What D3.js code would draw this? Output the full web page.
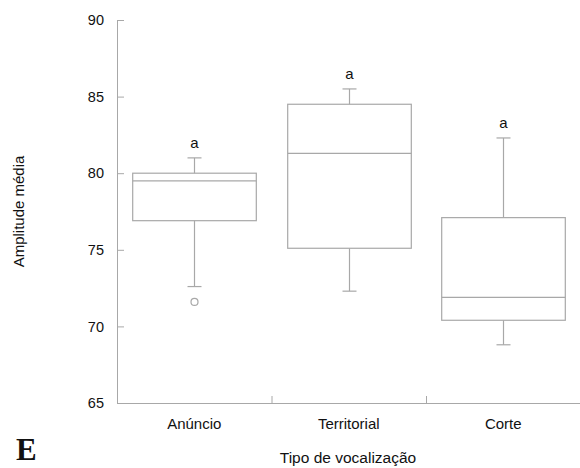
<!DOCTYPE html>
<html><head><meta charset="utf-8">
<script src="https://cdn.jsdelivr.net/npm/d3@7"></script>
<style>body{margin:0;background:#fff}svg{display:block}</style>
</head><body>
<script>
const categories = ["Anúncio", "Territorial", "Corte"];
const whiskerLow = [72.6, 72.3, 68.8];
const q1 = [76.9, 75.1, 70.4];
const median = [79.5, 81.3, 71.9];
const q3 = [80.0, 84.5, 77.1];
const whiskerHigh = [81.0, 85.5, 82.3];
const outliers = [[71.6], [], []];
const letters = ["a", "a", "a"];
const yTicks = [65, 70, 75, 80, 85, 90];

(function () {
const W = 580, H = 468;
const svg = d3.select("body").append("svg").attr("width", W).attr("height", H);
const mLeft = 117, mRight = 580, mTop = 20, mBottom = 403;
const x = d3.scaleBand().domain(categories).range([mLeft, mRight + 0.5]).paddingInner(0).paddingOuter(0);
const y = d3.scaleLinear().domain([65, 90]).range([mBottom, mTop]);
const gray = "#a8a8a8";
const font = "Liberation Sans, Arial, sans-serif";

// Y axis
const ya = svg.append("g").attr("transform", `translate(${mLeft},0)`)
  .call(d3.axisLeft(y).tickValues(yTicks).tickSizeInner(-7).tickSizeOuter(0).tickPadding(13));
ya.select(".domain").attr("stroke", gray);
ya.selectAll(".tick line").attr("stroke", gray);
ya.selectAll(".tick text").attr("font-family", font).attr("font-size", 14.5).attr("fill", "#111");

// X axis
const xa = svg.append("g").attr("transform", `translate(0,${mBottom})`)
  .call(d3.axisBottom(x).tickSize(0).tickPadding(15));
xa.select(".domain").attr("stroke", gray);
xa.selectAll(".tick text").attr("font-family", font).attr("font-size", 15).attr("fill", "#111");
svg.selectAll(".sep").data(categories.slice(1)).enter().append("line")
  .attr("x1", d => x(d) + 0.5).attr("x2", d => x(d) + 0.5)
  .attr("y1", mBottom).attr("y2", mBottom - 7).attr("stroke", gray);

const bw = x.bandwidth() * 0.8;
const cap = 14;
categories.forEach((c, i) => {
  const cx = Math.round(x(c) + x.bandwidth() / 2) + 0.5;
  const g = svg.append("g").attr("stroke", gray).attr("stroke-width", 1.2).attr("fill", "none");
  g.append("line").attr("x1", cx).attr("x2", cx).attr("y1", y(whiskerHigh[i])).attr("y2", y(q3[i]));
  g.append("line").attr("x1", cx).attr("x2", cx).attr("y1", y(q1[i])).attr("y2", y(whiskerLow[i]));
  g.append("line").attr("x1", cx - cap / 2).attr("x2", cx + cap / 2).attr("y1", y(whiskerHigh[i])).attr("y2", y(whiskerHigh[i]));
  g.append("line").attr("x1", cx - cap / 2).attr("x2", cx + cap / 2).attr("y1", y(whiskerLow[i])).attr("y2", y(whiskerLow[i]));
  g.append("rect").attr("x", cx - bw / 2).attr("width", bw).attr("y", y(q3[i])).attr("height", y(q1[i]) - y(q3[i]));
  g.append("line").attr("x1", cx - bw / 2).attr("x2", cx + bw / 2).attr("y1", y(median[i])).attr("y2", y(median[i]));
  outliers[i].forEach(o => g.append("circle").attr("cx", cx).attr("cy", y(o)).attr("r", 3.5));
  svg.append("text").attr("x", cx).attr("y", y(whiskerHigh[i]) - 10).attr("text-anchor", "middle")
    .attr("font-family", font).attr("font-size", 15).attr("fill", "#111").text(letters[i]);
});

svg.append("text").attr("transform", `translate(24,211.5) rotate(-90)`)
  .attr("text-anchor", "middle").attr("font-family", font).attr("font-size", 15).attr("fill", "#111")
  .text("Amplitude média");
svg.append("text").attr("x", 348).attr("y", 463).attr("text-anchor", "middle")
  .attr("font-family", font).attr("font-size", 15.5).attr("fill", "#111").text("Tipo de vocalização");
svg.append("text").attr("x", 16).attr("y", 460)
  .attr("font-family", "Liberation Serif, Times New Roman, serif").attr("font-weight", "bold")
  .attr("font-size", 31).attr("fill", "#111").text("E");
})();
</script>
</body></html>
